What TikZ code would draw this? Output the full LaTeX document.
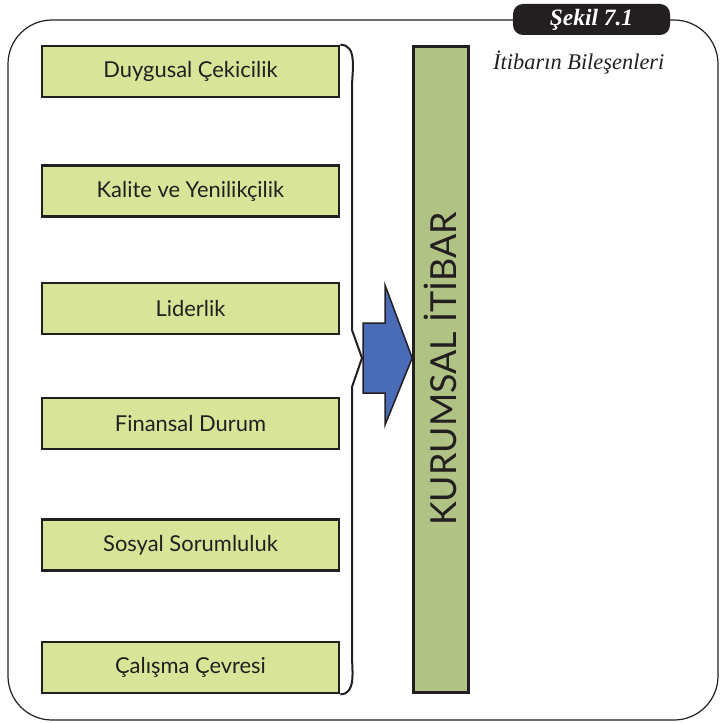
\documentclass[tikz,border=0pt]{standalone}
\usepackage{fontspec}
\setmainfont{Liberation Serif}
\newfontfamily\boxfont{Lato}
\usetikzlibrary{calc}
\definecolor{inkdark}{HTML}{231F20}
\definecolor{limefill}{HTML}{D8E598}
\definecolor{barfill}{HTML}{B0C384}
\definecolor{arrowblue}{HTML}{4A6CB8}
\tikzset{
  factor/.style={draw=inkdark, line width=2.6bp, fill=limefill,
    minimum width=297bp, minimum height=51bp, inner sep=0pt,
    font=\boxfont\fontsize{22}{25}\selectfont, text=inkdark},
  frameline/.style={draw=inkdark, line width=1.2bp},
  bracketline/.style={draw=inkdark, line width=2bp, line join=miter},
}
\begin{document}
\begin{tikzpicture}[x=1bp,y=-1bp]
\useasboundingbox (0,0) rectangle (722,723);
% outer rounded frame
\draw[frameline, rounded corners=44bp] (8,20) rectangle (718,720);
% caption tab
\node[fill=inkdark, rounded corners=10bp, minimum width=157bp, minimum height=31bp,
  inner sep=0pt, text=white, font=\fontsize{23.5}{26}\selectfont\bfseries\itshape]
  (tab) at (591.5,19.5) {Şekil 7.1};
\node[anchor=west, font=\fontsize{22.5}{26}\selectfont\itshape, text=inkdark, inner sep=0pt]
  (title) at (493,63) {İtibarın Bileşenleri};
% component boxes
\node[factor] (f1) at (190.5,71.5) {Duygusal Çekicilik};
\node[factor] (f2) at (190.5,191) {Kalite ve Yenilikçilik};
\node[factor] (f3) at (190.5,308.5) {Liderlik};
\node[factor] (f4) at (190.5,423.5) {Finansal Durum};
\node[factor] (f5) at (190.5,545) {Sosyal Sorumluluk};
\node[factor] (f6) at (190.5,667.5) {Çalışma Çevresi};
% result bar
\node[draw=inkdark, line width=2.6bp, fill=barfill, minimum width=55bp, minimum height=646bp,
  inner sep=0pt] (bar) at (441,369.5) {};
\node[rotate=90, font=\boxfont\fontsize{36}{40}\selectfont, text=inkdark, inner sep=0pt]
  (barlabel) at (440,369) {KURUMSAL İTİBAR};
% brace collecting the components
\coordinate (tip) at (362,358);
\draw[bracketline] (f1.north east) to[out=0,in=90] (352,88) -- (352,330) -- (tip)
  -- (352,387) -- (352,655) to[out=-90,in=0] (f6.south east);
% block arrow into the bar
\draw[fill=arrowblue, draw=inkdark, line width=1.5bp, line join=miter]
  (363,323) -- (385,323) -- (385,285) -- (bar.west |- tip) -- (385,425) -- (385,393)
  -- (363,393) -- cycle;
\end{tikzpicture}
\end{document}
